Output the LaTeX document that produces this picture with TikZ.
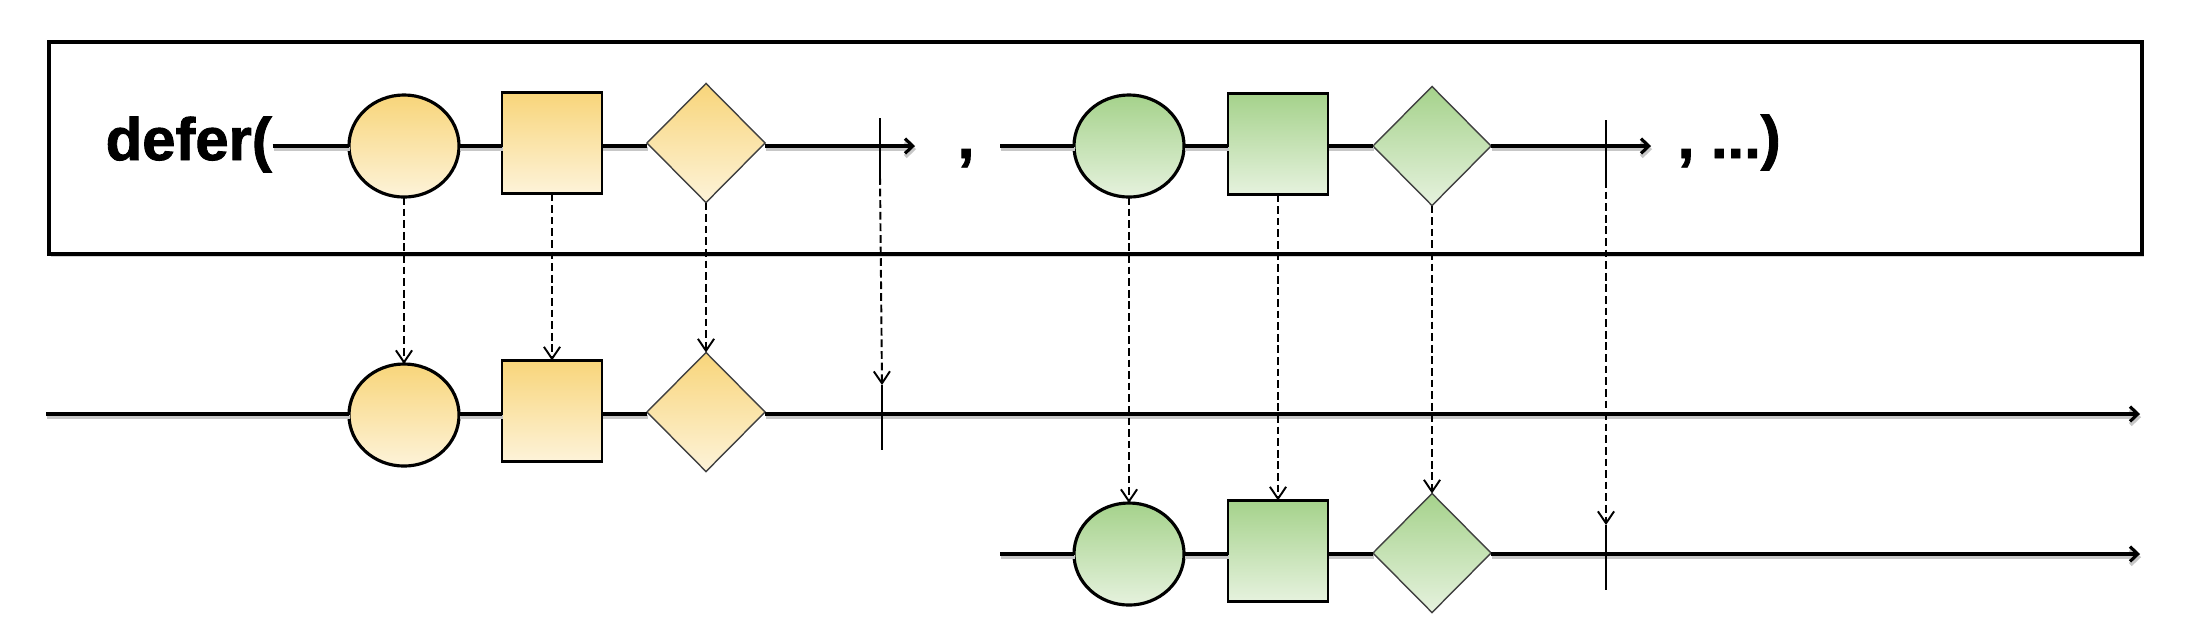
\documentclass[tikz,border=0pt]{standalone}
\usepackage{fontspec}
\newfontfamily\heavyfont[BoldFeatures={FakeBold=1.5}]{Liberation Sans}
\usetikzlibrary{shapes.geometric,arrows.meta,shadows}
\definecolor{yTop}{HTML}{F8D57A}
\definecolor{yBot}{HTML}{FDF3D9}
\definecolor{gTop}{HTML}{A5D28B}
\definecolor{gBot}{HTML}{E6F2DE}
\tikzset{
  mline/.style={line width=0.9pt, draw=black,
    preaction={draw=black!22, line width=1.2pt, transform canvas={xshift=0.3pt,yshift=-0.9pt}}},
  marrow/.style={mline, -{Straight Barb[length=2.2pt,width=4.2pt]}},
  dline/.style={line width=0.55pt, dash pattern=on 2.2pt off 1.1pt, -{Straight Barb[length=3.4pt,width=4.6pt]}},
  tickmark/.style={line width=0.55pt},
  yel/.style={top color=yTop, bottom color=yBot},
  grn/.style={top color=gTop, bottom color=gBot},
  obsball/.style={ellipse, draw, line width=0.9pt, minimum width=1.1cm, minimum height=1.02cm, inner sep=0, outer sep=0},
  obsbox/.style={rectangle, draw, line width=0.8pt, minimum width=1.0cm, minimum height=1.01cm, inner sep=0, outer sep=0},
  obsgem/.style={diamond, draw=black!75, line width=0.4pt, minimum width=1.18cm, minimum height=1.19cm, inner sep=0, outer sep=0},
  lbl/.style={font=\heavyfont\bfseries\fontsize{17}{17}\selectfont, inner sep=0, anchor=base west},
  outerframe/.style={line width=1.1pt, fill=white, drop shadow={shadow xshift=0.6pt, shadow yshift=-0.8pt, opacity=0.35}}
}
\begin{document}
\begin{tikzpicture}[x=0.01cm, y=-0.01cm]
\useasboundingbox (0,0) rectangle (2192,620);
\draw[outerframe] (49,42) rectangle (2142,254);

% top row
\node[lbl] (defer) at (105,160) {defer(};
\node[obsball, yel] (ya) at (404,146) {};
\node[obsbox, yel] (yb) at (552,143) {};
\node[obsgem, yel] (yc) at (706,143) {};
\coordinate (t1end) at (915,146);
\coordinate (tk1top) at (880,118);
\coordinate (tk1bot) at (880,177);
\node[lbl] (comma) at (957,158) {,};
\coordinate (t2start) at (1000,146);
\node[obsball, grn] (ga) at (1129,146) {};
\node[obsbox, grn] (gb) at (1278,144) {};
\node[obsgem, grn] (gc) at (1432,146) {};
\coordinate (t2end) at (1651,146);
\coordinate (tk2top) at (1606,120);
\coordinate (tk2bot) at (1606,180);
\node[lbl] (tail) at (1677,158) {, ...)};

\draw[mline] (defer.east |- ya) -- (ya.west);
\draw[mline] (ya.east) -- (yb.west |- ya);
\draw[mline] (yb.east |- ya) -- (yc.west |- ya);
\draw[marrow] (yc.east |- ya) -- (t1end);
\draw[tickmark] (tk1top) -- (tk1bot);
\draw[mline] (t2start) -- (ga.west);
\draw[mline] (ga.east) -- (gb.west |- ga);
\draw[mline] (gb.east |- ga) -- (gc.west |- ga);
\draw[marrow] (gc.east |- ga) -- (t2end);
\draw[tickmark] (tk2top) -- (tk2bot);

% middle row
\coordinate (m0) at (46,414);
\coordinate (mEnd) at (2140,414);
\node[obsball, yel] (ya2) at (404,415) {};
\node[obsbox, yel] (yb2) at (552,411) {};
\node[obsgem, yel] (yc2) at (706,412) {};
\coordinate (tk3top) at (882,385);
\coordinate (tk3bot) at (882,450);
\draw[mline] (m0) -- (ya2.west |- m0);
\draw[mline] (ya2.east |- m0) -- (yb2.west |- m0);
\draw[mline] (yb2.east |- m0) -- (yc2.west |- m0);
\draw[marrow] (yc2.east |- m0) -- (mEnd);
\draw[tickmark] (tk3top) -- (tk3bot);

% bottom row
\coordinate (b0) at (1000,554);
\coordinate (bEnd) at (2140,554);
\node[obsball, grn] (ga2) at (1129,554) {};
\node[obsbox, grn] (gb2) at (1278,551) {};
\node[obsgem, grn] (gc2) at (1432,553) {};
\coordinate (tk4top) at (1606,525);
\coordinate (tk4bot) at (1606,590);
\draw[mline] (b0) -- (ga2.west |- b0);
\draw[mline] (ga2.east |- b0) -- (gb2.west |- b0);
\draw[mline] (gb2.east |- b0) -- (gc2.west |- b0);
\draw[marrow] (gc2.east |- b0) -- (bEnd);
\draw[tickmark] (tk4top) -- (tk4bot);

% dashed projections
\draw[dline] (ya.south) -- (ya2.north);
\draw[dline] (yb.south) -- (yb2.north);
\draw[dline] (yc.south) -- (yc2.north);
\draw[dline] (tk1bot) -- (tk3top);
\draw[dline] (ga.south) -- (ga2.north);
\draw[dline] (gb.south) -- (gb2.north);
\draw[dline] (gc.south) -- (gc2.north);
\draw[dline] (tk2bot) -- (tk4top);
\end{tikzpicture}
\end{document}
